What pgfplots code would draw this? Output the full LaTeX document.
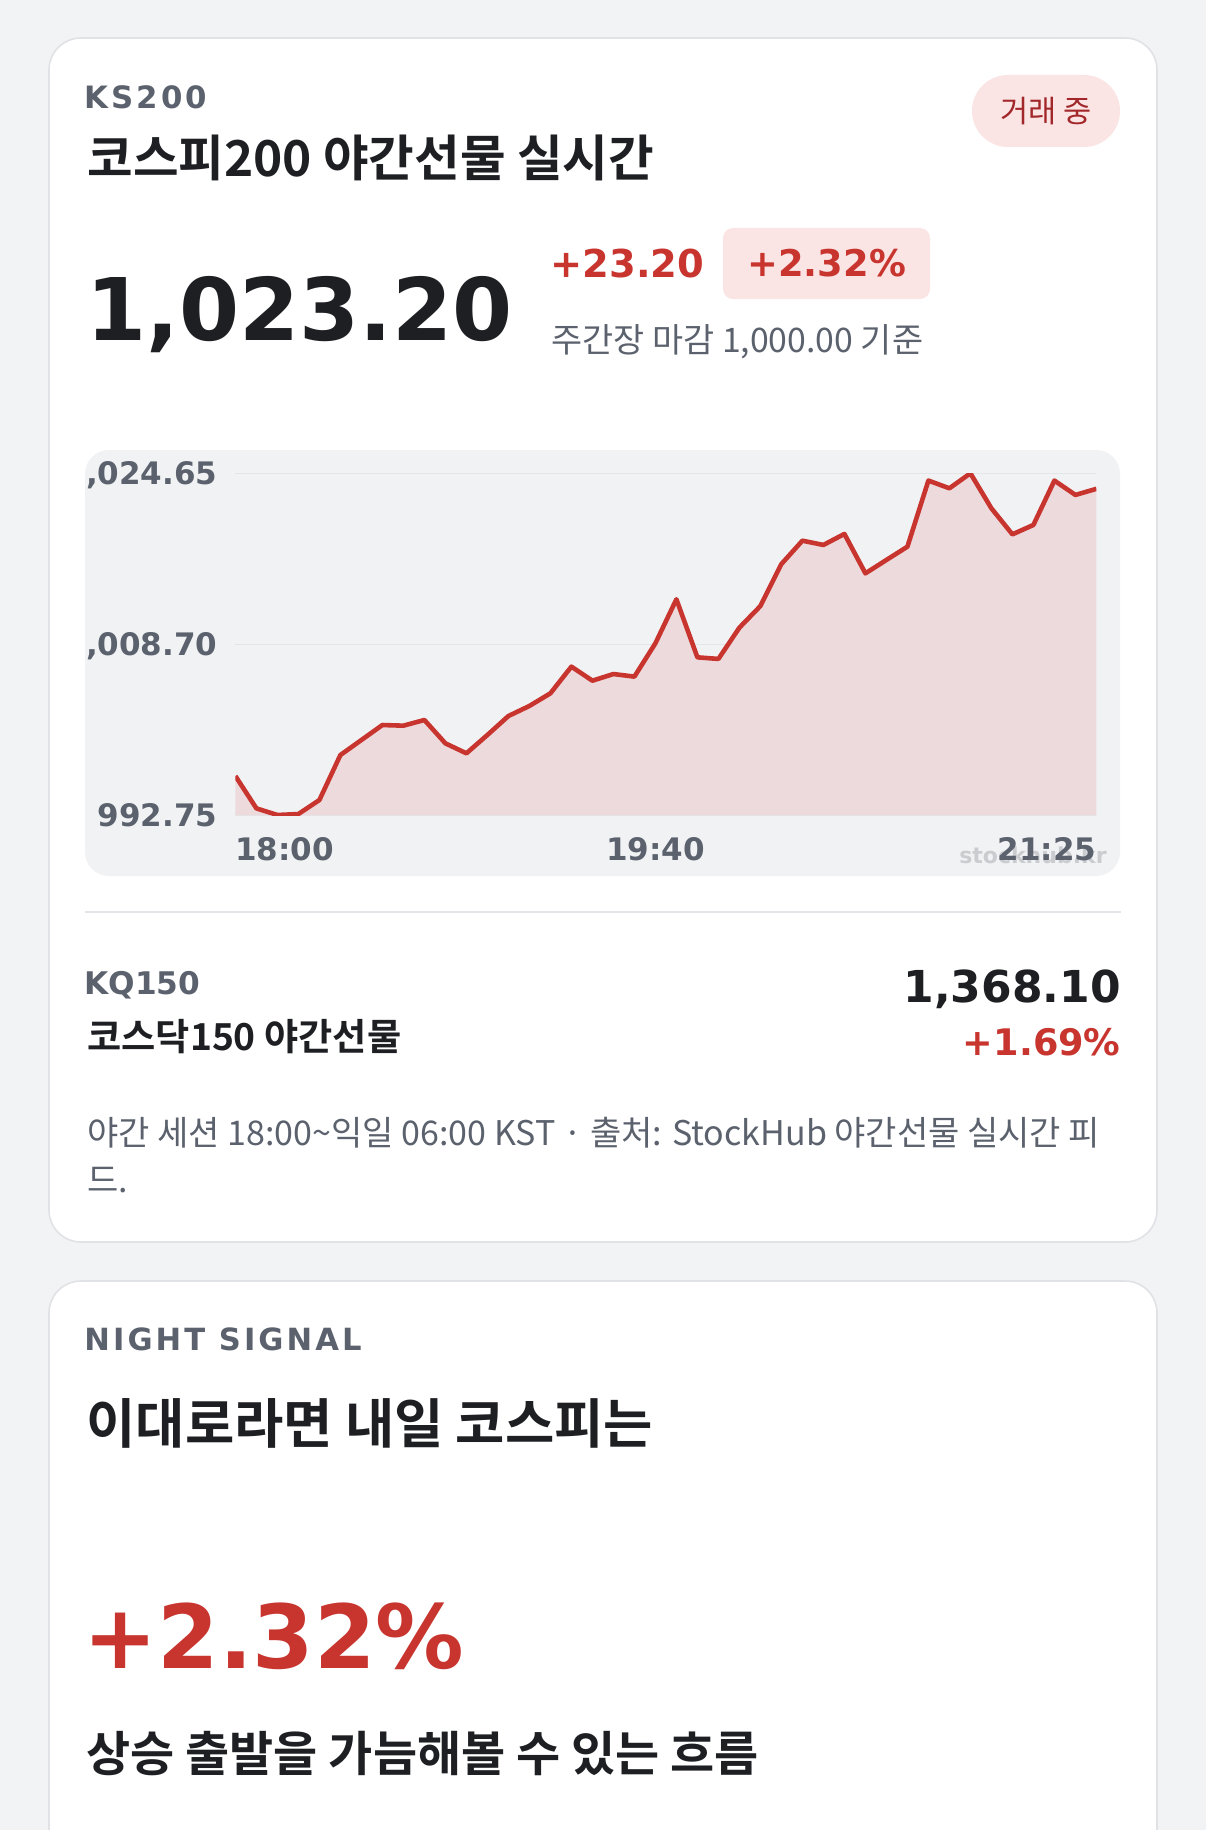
\documentclass[border=0pt]{standalone}
\usepackage{pgfplots}
\usepackage{pgfplotstable}
\pgfplotsset{compat=1.18}
\usepackage{fontspec}
\setmainfont{Noto Sans CJK KR}[BoldFont={Noto Sans CJK KR Bold}]
\newfontfamily\num{DejaVu Sans}[BoldFont={DejaVu Sans Bold}]
\newfontfamily\numls{DejaVu Sans Bold}[LetterSpace=10]

\definecolor{bg}{HTML}{F2F3F5}
\definecolor{cardline}{HTML}{E1E2E6}
\definecolor{ink}{HTML}{1E1F23}
\definecolor{muted}{HTML}{5B626D}
\definecolor{upred}{HTML}{C8352F}
\definecolor{pink}{HTML}{FBE4E4}
\definecolor{badgetext}{HTML}{A1272A}
\definecolor{panel}{HTML}{F1F2F4}
\definecolor{areafill}{HTML}{ECDADD}
\definecolor{gridc}{HTML}{E4E5E8}
\definecolor{wm}{HTML}{CACCD0}

\pgfplotstableread{
t v
0 996.39
5 993.37
10 992.75
15 992.84
20 994.15
25 998.35
30 999.75
35 1001.15
40 1001.09
45 1001.62
50 999.44
55 998.51
60 1000.22
65 1001.99
70 1002.93
75 1004.11
80 1006.60
85 1005.29
90 1005.91
95 1005.67
100 1008.78
105 1012.89
110 1007.47
115 1007.32
120 1010.24
125 1012.26
130 1016.18
135 1018.36
140 1017.96
145 1018.99
150 1015.31
155 1016.56
160 1017.80
165 1023.97
170 1023.25
175 1024.65
180 1021.38
185 1018.95
190 1019.83
195 1023.97
200 1022.63
205 1023.20
}\ksdata

\begin{document}
\begin{tikzpicture}[x=0.5pt,y=0.5pt]
\useasboundingbox (0,0) rectangle (1206,-1830);
\clip (0,0) rectangle (1206,-1830);
\fill[bg] (0,0) rectangle (1206,-1830);

% cards
\filldraw[fill=white, draw=cardline, line width=0.8pt, rounded corners=16pt] (49,-38) rectangle (1157,-1242);
\filldraw[fill=white, draw=cardline, line width=0.8pt, rounded corners=16pt] (49,-1281) rectangle (1157,-1980);

% header
\node[anchor=base west, inner sep=0, text=muted, font=\numls\fontsize{15.4}{15}\selectfont] at (84,-109) {KS200};
\node[anchor=base west, inner sep=0, text=ink, font=\bfseries\fontsize{24.8}{25}\selectfont] at (87,-177) {코스피200 야간선물 실시간};
\node[fill=pink, rounded corners=18pt, minimum width=74pt, minimum height=36pt, inner sep=0, text=badgetext, font=\fontsize{15.3}{15}\selectfont] at (1046,-111) {거래 중};

% price
\node[anchor=base west, inner sep=0, text=ink, font=\num\bfseries\fontsize{43.2}{43}\selectfont] at (86,-340) {1,023.20};
\node[anchor=base west, inner sep=0, text=upred, font=\num\bfseries\fontsize{19.2}{19}\selectfont] at (550,-278) {+23.20};
\fill[pink, rounded corners=5pt] (723,-228) rectangle (930,-299);
\node[anchor=base west, inner sep=0, text=upred, font=\num\bfseries\fontsize{18.4}{18}\selectfont] at (747,-277) {+2.32\%};
\node[anchor=base west, inner sep=0, text=muted, font=\fontsize{16.9}{17}\selectfont] at (551,-352) {주간장 마감 1,000.00 기준};

% chart panel
\fill[panel, rounded corners=12pt] (85,-450) rectangle (1120,-876);
\coordinate (axorig) at (235.4,-815);
\begin{scope}
\clip[rounded corners=12pt] (85,-450) rectangle (1120,-876);
\node[anchor=base east, inner sep=0, text=wm, font=\num\bfseries\fontsize{11}{11}\selectfont] at (1107,-863) {stockhub.kr};
\begin{axis}[
  at={(axorig)}, anchor=south west,
  scale only axis, width=430.5pt, height=170.85pt,
  xmin=0, xmax=205, ymin=992.75, ymax=1024.65,
  axis line style={draw=none}, tick style={draw=none},
  ytick={992.75,1008.70,1024.65},
  yticklabels={992.75,{1,008.70},{1,024.65}},
  ymajorgrids, grid style={gridc, line width=0.6pt},
  xtick={0,100,205},
  xticklabels={\makebox[0pt][l]{18:00},19:40,\makebox[0pt][r]{21:25}},
  ticklabel style={font=\num\bfseries\fontsize{15.5}{16}\selectfont, text=muted},
  yticklabel style={anchor=base east, inner sep=0pt, xshift=-8.8pt, yshift=-5.6pt},
  xticklabel style={anchor=base, inner sep=0pt, yshift=-22.5pt},
]
\addplot[draw=none, fill=areafill] table[x=t,y=v] {\ksdata} \closedcycle;
\addplot[upred, line width=2.3pt, line join=round, mark=none] table[x=t,y=v] {\ksdata};
\end{axis}
\end{scope}

% divider
\draw[gridc, line width=1pt] (85,-912) -- (1121,-912);

% KQ150
\node[anchor=base west, inner sep=0, text=muted, font=\num\bfseries\fontsize{15.6}{15}\selectfont] at (84,-994) {KQ150};
\node[anchor=base west, inner sep=0, text=ink, font=\bfseries\fontsize{18.6}{19}\selectfont] at (87,-1050) {코스닥150 야간선물};
\node[anchor=base east, inner sep=0, text=ink, font=\num\bfseries\fontsize{22}{22}\selectfont] at (1121,-1002) {1,368.10};
\node[anchor=base east, inner sep=0, text=upred, font=\num\bfseries\fontsize{18.3}{18}\selectfont] at (1121,-1055) {+1.69\%};

% footnote
\node[anchor=base west, inner sep=0, text=muted, font=\fontsize{17}{17}\selectfont] at (87,-1145) {야간 세션 18:00\textasciitilde 익일 06:00 KST · 출처: StockHub 야간선물 실시간 피};
\node[anchor=base west, inner sep=0, text=muted, font=\fontsize{17}{17}\selectfont] at (87,-1192) {드.};

% card 2
\node[anchor=base west, inner sep=0, text=muted, font=\numls\fontsize{15.3}{15}\selectfont] at (84,-1350) {NIGHT SIGNAL};
\node[anchor=base west, inner sep=0, text=ink, font=\bfseries\fontsize{26.8}{27}\selectfont] at (86,-1443) {이대로라면 내일 코스피는};
\node[anchor=base west, inner sep=0, text=upred, font=\num\bfseries\fontsize{44.2}{44}\selectfont] at (83,-1668) {+2.32\%};
\node[anchor=base west, inner sep=0, text=ink, font=\bfseries\fontsize{24}{24}\selectfont] at (86,-1771) {상승 출발을 가늠해볼 수 있는 흐름};
\end{tikzpicture}
\end{document}
